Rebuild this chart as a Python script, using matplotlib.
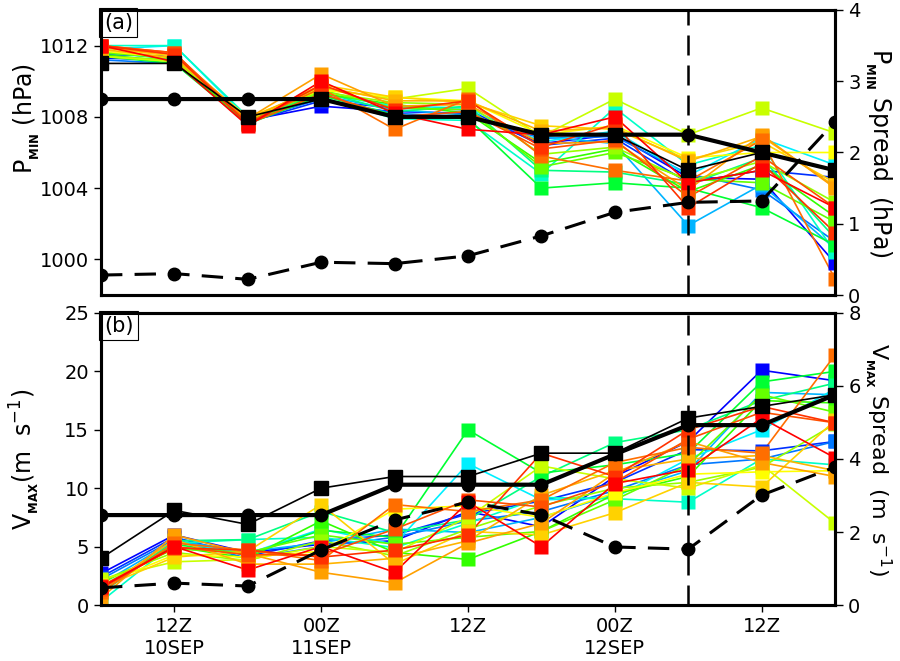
import matplotlib.pyplot as plt

# Dados: 11 tempos (a cada 6 h), 20 membros do ensemble
horas = list(range(11))
pos_rotulos = [1, 3, 5, 7, 9]
rotulos_x = ['12Z\n10SEP', '00Z\n11SEP', '12Z', '00Z\n12SEP', '12Z']
tempo_vertical = 8

cores = ['#0000ff', '#0030ff', '#0078ff', '#00b4ff', '#00f0ff', '#00ffc8', '#00ff82',
         '#00ff32', '#32ff00', '#64ff00', '#96ff00', '#c8ff00', '#ffff00', '#ffd200',
         '#ffb400', '#ffa000', '#ff6e00', '#ff5000', '#ff3200', '#ff0000']

# (a) pressao minima dos membros (hPa)
pmin_membros = [
    [1011.3, 1011.2, 1007.8, 1008.6, 1008.3, 1008.2, 1006.5, 1007.0, 1004.6, 1004.5, 999.8],
    [1011.5, 1011.4, 1007.7, 1008.9, 1008.5, 1008.4, 1006.4, 1006.8, 1004.3, 1005.0, 1004.6],
    [1011.2, 1011.0, 1007.8, 1009.0, 1008.2, 1008.0, 1006.8, 1006.9, 1004.8, 1003.9, 1001.0],
    [1011.6, 1011.3, 1007.9, 1009.2, 1008.4, 1008.1, 1006.9, 1006.5, 1001.9, 1004.2, 1000.6],
    [1011.8, 1012.0, 1007.9, 1009.3, 1008.6, 1008.5, 1006.6, 1007.2, 1004.7, 1006.8, 1005.3],
    [1012.0, 1012.0, 1008.0, 1009.1, 1007.9, 1007.8, 1004.8, 1008.5, 1005.3, 1006.4, 1000.4],
    [1011.7, 1011.2, 1007.8, 1009.4, 1008.3, 1008.6, 1005.0, 1004.9, 1004.2, 1005.7, 1001.2],
    [1011.4, 1011.0, 1007.6, 1009.2, 1008.1, 1007.9, 1004.0, 1004.3, 1004.0, 1002.9, 1000.8],
    [1011.5, 1011.1, 1007.7, 1009.3, 1008.7, 1008.2, 1005.4, 1006.2, 1003.8, 1005.3, 1002.4],
    [1011.6, 1011.3, 1007.8, 1009.5, 1008.5, 1008.4, 1005.2, 1006.0, 1004.5, 1004.3, 1002.1],
    [1011.4, 1011.2, 1007.9, 1009.4, 1008.8, 1008.7, 1005.9, 1006.3, 1004.4, 1005.5, 1003.2],
    [1011.4, 1011.1, 1007.9, 1009.6, 1009.0, 1009.6, 1006.9, 1009.0, 1007.0, 1008.5, 1007.1],
    [1011.7, 1011.3, 1008.0, 1009.5, 1009.1, 1008.9, 1007.0, 1007.5, 1005.7, 1006.0, 1006.0],
    [1011.9, 1011.4, 1007.8, 1009.8, 1009.1, 1008.8, 1007.5, 1007.3, 1005.6, 1006.6, 1004.3],
    [1011.8, 1011.3, 1007.9, 1009.7, 1008.9, 1008.9, 1007.2, 1007.4, 1005.5, 1006.9, 1004.1],
    [1011.9, 1011.5, 1007.9, 1010.4, 1008.6, 1008.7, 1006.5, 1006.6, 1003.9, 1007.0, 1004.0],
    [1012.0, 1011.6, 1007.7, 1009.6, 1007.3, 1009.0, 1005.8, 1005.0, 1004.4, 1006.7, 998.9],
    [1012.0, 1011.6, 1007.6, 1009.3, 1008.0, 1008.3, 1006.2, 1006.7, 1003.5, 1005.8, 1002.9],
    [1012.0, 1011.5, 1007.6, 1009.8, 1008.4, 1008.9, 1006.3, 1007.6, 1002.9, 1005.4, 1001.5],
    [1012.0, 1011.1, 1007.5, 1010.0, 1008.2, 1007.3, 1007.0, 1008.0, 1004.3, 1005.0, 1002.9],
]
pmin_obs = [1009, 1009, 1009, 1009, 1008, 1008, 1007, 1007, 1007, 1006, 1005]
pmin_media = [1011, 1011, 1008, 1009, 1008, 1008, 1007, 1007, 1005, 1006, 1005]
pmin_spread = [0.28, 0.30, 0.22, 0.46, 0.44, 0.55, 0.83, 1.16, 1.30, 1.32, 2.43]

# (b) vento maximo dos membros (m/s)
vmax_membros = [
    [2.7, 6.0, 4.5, 5.2, 5.5, 8.0, 6.7, 11.0, 14.0, 20.1, 19.2],
    [2.4, 5.8, 4.2, 5.5, 6.0, 7.8, 8.9, 10.5, 13.3, 13.2, 14.0],
    [2.2, 5.6, 4.0, 5.0, 5.8, 7.2, 8.0, 9.8, 12.0, 12.5, 14.0],
    [1.8, 5.5, 4.6, 5.3, 6.5, 6.2, 7.5, 9.5, 11.5, 18.2, 18.0],
    [1.2, 5.4, 4.4, 6.5, 5.2, 12.1, 9.0, 9.2, 12.5, 15.0, 18.5],
    [0.3, 5.3, 5.6, 5.8, 4.9, 7.0, 9.2, 9.1, 8.8, 12.5, 12.0],
    [1.0, 5.5, 5.6, 8.0, 6.2, 7.3, 11.0, 13.9, 15.0, 17.5, 19.0],
    [1.4, 5.2, 4.3, 6.4, 5.8, 15.0, 11.3, 12.0, 13.0, 19.1, 20.0],
    [1.6, 5.0, 4.0, 7.2, 4.5, 3.9, 6.3, 9.5, 11.0, 17.5, 17.3],
    [1.9, 4.8, 4.5, 6.0, 5.2, 5.8, 6.3, 9.0, 12.0, 18.0, 16.5],
    [2.1, 4.5, 3.8, 5.5, 4.2, 6.5, 8.5, 10.0, 10.5, 11.8, 15.5],
    [2.2, 3.7, 3.9, 5.0, 4.5, 7.5, 11.9, 10.8, 10.0, 12.0, 7.0],
    [1.7, 4.3, 4.1, 4.6, 8.2, 8.5, 7.5, 9.6, 11.2, 11.4, 11.5],
    [1.5, 4.1, 4.6, 8.6, 3.5, 6.3, 6.0, 7.9, 10.5, 10.1, 15.8],
    [1.3, 5.6, 3.5, 3.5, 4.0, 5.5, 9.4, 11.5, 12.5, 12.8, 11.5],
    [0.6, 6.0, 4.4, 2.8, 1.9, 5.3, 7.0, 11.3, 14.0, 12.2, 11.0],
    [1.1, 5.3, 4.7, 3.8, 8.6, 8.0, 9.0, 12.2, 13.5, 13.0, 21.4],
    [1.4, 5.0, 4.3, 4.3, 6.5, 9.0, 8.4, 10.5, 14.2, 16.5, 15.6],
    [1.6, 4.9, 4.7, 4.1, 4.7, 6.0, 13.0, 11.0, 15.0, 17.0, 15.6],
    [1.5, 5.0, 3.0, 5.0, 2.8, 8.8, 5.0, 10.4, 11.6, 16.0, 12.6],
]
vmax_obs = [7.7, 7.7, 7.7, 7.7, 10.3, 10.3, 10.3, 12.9, 15.4, 15.4, 18.0]
vmax_media = [4.0, 8.1, 6.9, 10.0, 11.0, 11.0, 13.0, 13.0, 16.0, 17.0, 18.0]
vmax_spread = [0.47, 0.60, 0.52, 1.51, 2.33, 2.82, 2.47, 1.59, 1.53, 3.01, 3.78]

plt.rcParams['font.family'] = 'DejaVu Sans'


# Função para desenhar um painel com eixo duplo
def plotar_painel(ax, membros, obs, media, spread, ylim, yticks, ylim2, yticks2,
                  rotulo, rot_esq, rot_dir, y_rot_esq, tam_dir):
    for m, serie in enumerate(membros):
        ax.plot(horas, serie, '-', color=cores[m], lw=1.2, zorder=2)
    for m, serie in enumerate(membros):
        ax.plot(horas, serie, 's', color=cores[m], ms=10, mec='none', zorder=3)
    ax.plot(horas, obs, '-o', color='k', lw=3, ms=9, zorder=4)
    ax.plot(horas, media, '-s', color='k', lw=1.2, ms=10, zorder=5)
    ax.axvline(tempo_vertical, color='k', lw=1.8, ls=(0, (8, 4)), zorder=6)

    ax.set_xlim(0, 10)
    ax.set_ylim(*ylim)
    ax.set_yticks(yticks)
    ax.set_ylabel(rot_esq, fontsize=17)
    ax.yaxis.set_label_coords(-0.08, y_rot_esq)
    ax.tick_params(axis='y', direction='out', length=5, width=1, labelsize=14)
    ax.text(0.004, 0.99, rotulo, transform=ax.transAxes, fontsize=15, va='top', ha='left',
            bbox=dict(boxstyle='square,pad=0.22', facecolor='white', edgecolor='k', lw=0.8),
            zorder=10)

    ax2 = ax.twinx()
    ax2.plot(horas, spread, 'o', ls=(0, (7, 4)), color='k', lw=2.2, ms=9)
    ax2.set_ylim(*ylim2)
    ax2.set_yticks(yticks2)
    ax2.set_ylabel(rot_dir, fontsize=tam_dir, rotation=270, va='center')
    ax2.yaxis.set_label_coords(1.058, 0.5)
    ax2.tick_params(axis='y', direction='out', length=6, width=1, labelsize=14)

    for a in (ax, ax2):
        for s in a.spines.values():
            s.set_linewidth(2.2)
    return ax2


fig = plt.figure(figsize=(9, 6.61), dpi=100)
ax_a = fig.add_axes([0.1122, 0.5537, 0.8156, 0.4312])
ax_b = fig.add_axes([0.1122, 0.0847, 0.8156, 0.4418])

plotar_painel(ax_a, pmin_membros, pmin_obs, pmin_media, pmin_spread,
              (998, 1014), [1000, 1004, 1008, 1012], (0, 4), [0, 1, 2, 3, 4], '(a)',
              r'P$_{{}_{\mathbf{MIN}}}$ (hPa)', r'P$_{{}_{\mathbf{MIN}}}$ Spread  (hPa)', 0.62, 17)
ax_a.set_xticks([])

plotar_painel(ax_b, vmax_membros, vmax_obs, vmax_media, vmax_spread,
              (0, 25), [0, 5, 10, 15, 20, 25], (0, 8), [0, 2, 4, 6, 8], '(b)',
              r'V$_{{}_{\mathbf{MAX}}}$(m  s$^{-1}$)',
              r'V$_{{}_{\mathbf{MAX}}}$ Spread  (m  s$^{-1}$)', 0.5, 16)
ax_b.set_xticks(pos_rotulos)
ax_b.set_xticklabels(rotulos_x)
ax_b.tick_params(axis='x', direction='out', length=5, width=1, labelsize=14)

fig.savefig('out.png', dpi=100)
